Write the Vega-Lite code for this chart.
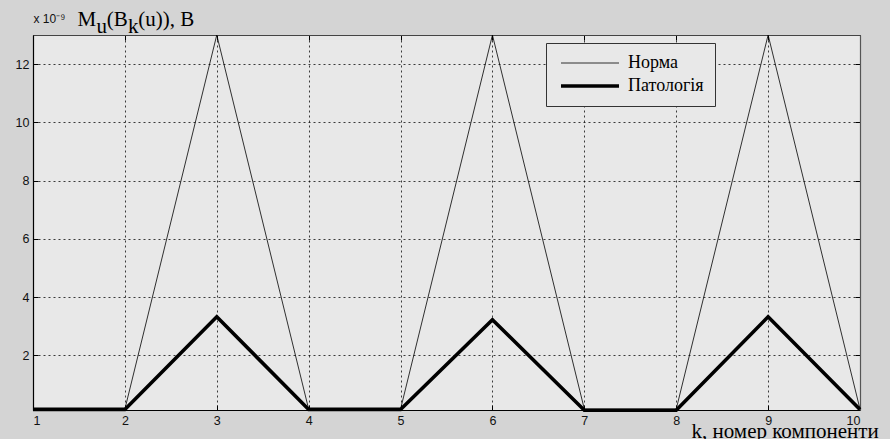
{
  "$schema": "https://vega.github.io/schema/vega-lite/v6.json",
  "autosize": "none",
  "width": 827,
  "height": 375,
  "padding": {"left": 33, "top": 35, "right": 30, "bottom": 29},
  "background": "#d4d4d4",
  "config": {
    "view": {"fill": "#e8e8e8", "stroke": null},
    "axis": {
      "labelFont": "Liberation Sans",
      "labelFontSize": 12.5,
      "labelColor": "#111",
      "domainColor": "#000",
      "domainWidth": 1.2,
      "tickColor": "#000",
      "tickSize": -5,
      "grid": true,
      "gridColor": "#000",
      "gridDash": [2, 3],
      "gridOpacity": 0.75,
      "gridWidth": 1
    }
  },
  "data": {
    "values": [
      {"k": 1, "v": 0.15, "series": "Норма"},
      {"k": 2, "v": 0.15, "series": "Норма"},
      {"k": 3, "v": 13.0, "series": "Норма"},
      {"k": 4, "v": 0.15, "series": "Норма"},
      {"k": 5, "v": 0.15, "series": "Норма"},
      {"k": 6, "v": 13.0, "series": "Норма"},
      {"k": 7, "v": 0.15, "series": "Норма"},
      {"k": 8, "v": 0.15, "series": "Норма"},
      {"k": 9, "v": 13.0, "series": "Норма"},
      {"k": 10, "v": 0.15, "series": "Норма"},
      {"k": 1, "v": 0.14, "series": "Патологія"},
      {"k": 2, "v": 0.14, "series": "Патологія"},
      {"k": 3, "v": 3.32, "series": "Патологія"},
      {"k": 4, "v": 0.14, "series": "Патологія"},
      {"k": 5, "v": 0.14, "series": "Патологія"},
      {"k": 6, "v": 3.22, "series": "Патологія"},
      {"k": 7, "v": 0.11, "series": "Патологія"},
      {"k": 8, "v": 0.11, "series": "Патологія"},
      {"k": 9, "v": 3.32, "series": "Патологія"},
      {"k": 10, "v": 0.14, "series": "Патологія"}
    ]
  },
  "resolve": {"axis": {"x": "independent", "y": "independent"}},
  "layer": [
    {
      "mark": {"type": "line", "color": "#000", "clip": false, "strokeJoin": "miter"},
      "encoding": {
        "x": {
          "field": "k", "type": "quantitative",
          "scale": {"domain": [1, 10], "nice": false, "zero": false},
          "axis": {
            "values": [1, 2, 3, 4, 5, 6, 7, 8, 9, 10],
            "format": "d",
            "labelPadding": 9,
            "labelBaseline": "top",
            "title": "k, номер компоненти",
            "titleFont": "Liberation Serif, Times New Roman, serif",
            "titleFontSize": 21,
            "titleFontWeight": "normal",
            "titleColor": "#000",
            "titleX": 658,
            "titleY": 27,
            "titleAlign": "left",
            "titleAnchor": null,
            "titleBaseline": "alphabetic"
          }
        },
        "y": {
          "field": "v", "type": "quantitative",
          "scale": {"domain": [0.12, 13.0], "nice": false, "zero": false},
          "axis": {
            "values": [2, 4, 6, 8, 10, 12],
            "labelPadding": 9,
            "title": "x 10⁻⁹",
            "titleFont": "Liberation Sans",
            "titleFontSize": 12,
            "titleFontWeight": "normal",
            "titleColor": "#111",
            "titleAngle": 0,
            "titleX": 0,
            "titleY": -13,
            "titleAlign": "left",
            "titleBaseline": "alphabetic"
          }
        },
        "strokeWidth": {
          "field": "series", "type": "ordinal",
          "scale": {"type": "ordinal", "domain": ["Норма", "Патологія"], "range": [0.8, 3.6]},
          "legend": {
            "title": null,
            "orient": "none",
            "legendX": 513,
            "legendY": 8,
            "symbolType": "M-1,0H10.6",
            "symbolSize": 100,
            "symbolStrokeColor": "#000",
            "labelOffset": 53,
            "labelFont": "Liberation Serif, Times New Roman, serif",
            "labelFontSize": 18,
            "labelColor": "#000",
            "rowPadding": 5,
            "padding": 11,
            "fillColor": "#e8e8e8",
            "strokeColor": "#333"
          }
        }
      }
    },
    {
      "mark": {"type": "point", "opacity": 0},
      "encoding": {
        "x": {
          "field": "k", "type": "quantitative",
          "axis": {
            "orient": "top",
            "values": [1, 2, 3, 4, 5, 6, 7, 8, 9, 10],
            "labels": false,
            "grid": false,
            "domainColor": "#444",
            "title": "M\u00a0\u00a0(B\u00a0\u00a0(u)), B",
            "titleFont": "Liberation Serif, Times New Roman, serif",
            "titleFontSize": 21,
            "titleFontWeight": "normal",
            "titleColor": "#000",
            "titleX": 44,
            "titleY": -10,
            "titleAlign": "left",
            "titleAnchor": null,
            "titleBaseline": "alphabetic"
          }
        },
        "y": {
          "field": "v", "type": "quantitative",
          "axis": {
            "orient": "right",
            "values": [2, 4, 6, 8, 10, 12],
            "labels": false,
            "grid": false,
            "domainColor": "#555",
            "title": "u\u00a0\u00a0\u00a0\u00a0k",
            "titleFont": "Liberation Serif, Times New Roman, serif",
            "titleFontSize": 21,
            "titleFontWeight": "normal",
            "titleColor": "#000",
            "titleAngle": 0,
            "titleX": -764,
            "titleY": -3,
            "titleAlign": "left",
            "titleAnchor": null,
            "titleBaseline": "alphabetic"
          }
        }
      }
    }
  ]
}
